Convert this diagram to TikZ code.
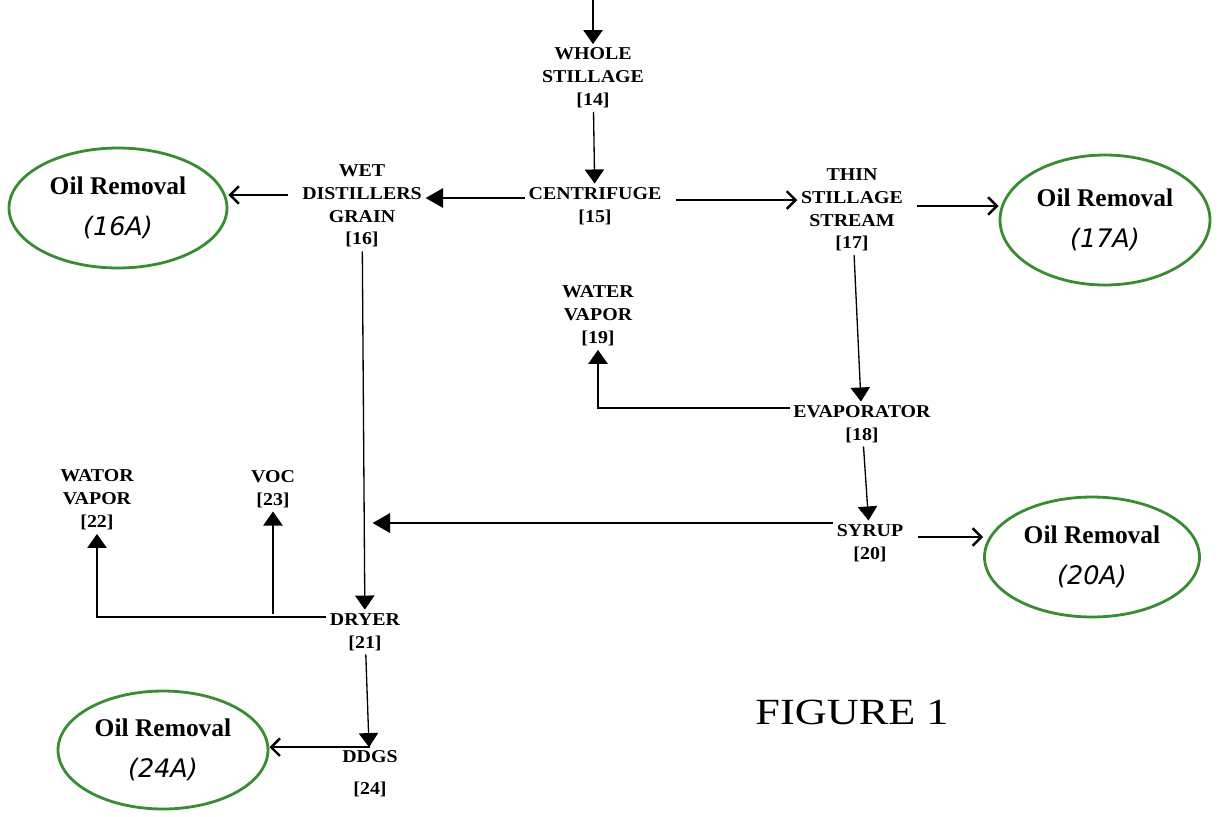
\documentclass[tikz,border=0pt]{standalone}
\usepackage{fontspec}
\setmainfont{Liberation Serif}
\newfontfamily\scanfont[FakeStretch=1.2]{Liberation Serif}
\newfontfamily\tagfont[FakeStretch=1.1]{Liberation Serif}
\newfontfamily\handfont{DejaVu Sans}
\usetikzlibrary{arrows.meta,shapes.geometric}
\definecolor{oilgreen}{RGB}{58,140,52}

\begin{document}
\begin{tikzpicture}[x=0.02cm,y=-0.02cm,
	lbl/.style	= {align=center,inner sep=2pt,font=\tagfont\bfseries\fontsize{10.3}{13}\selectfont},
	oil/.style	= {ellipse,draw=oilgreen,line width=1.6pt,align=center,
				minimum width=4.3cm,minimum height=2.4cm,
				font=\fontsize{14.5}{23}\selectfont\bfseries},
	flow/.style	= {line width=0.75pt,-{Triangle[width=11pt,length=8pt]}},
	feed/.style	= {line width=1.4pt,-{Triangle[width=11pt,length=10pt]}},
	side/.style	= {line width=1.4pt,shorten <=6pt,-{Straight Barb[width=10pt,length=5pt]}}]
					%\draw[help lines] (0,0) grid[step=100] (1221,816);
					\useasboundingbox (0,0) rectangle (1221,816);
					
					\node[lbl] (whole) at (593,78) {WHOLE\\STILLAGE\\{[14]}};
					\node[lbl] (centri) at (595,206) {CENTRIFUGE\\{[15]}};
					\node[lbl] (wdg) at (362,206) {WET\\DISTILLERS\\GRAIN\\{[16]}};
					\node[lbl] (thin) at (852,210) {THIN\\STILLAGE\\STREAM\\{[17]}};
					\node[lbl] (wv19) at (598,316) {WATER\\VAPOR\\{[19]}};
					\node[lbl] (evap) at (862,424) {EVAPORATOR\\{[18]}};
					\node[lbl] (syrup) at (870,543) {SYRUP\\{[20]}};
					\node[lbl] (wv22) at (97,500) {WATOR\\VAPOR\\{[22]}};
					\node[lbl] (voc) at (273,489) {VOC\\{[23]}};
					\node[lbl] (dryer) at (365,632) {DRYER\\{[21]}};
					\node[lbl] (ddgs) at (370,774) {DDGS\\[5pt]{[24]}};
					
					\node[oil,minimum width=4.36cm] (oil16) at (118,208) {Oil Removal\\{\handfont\itshape\mdseries (16A)}};
					\node[oil,minimum width=4.2cm,minimum height=2.6cm] (oil17) at (1105,220) {Oil Removal\\{\handfont\itshape\mdseries (17A)}};
					\node[oil] (oil20) at (1092,557) {Oil Removal\\{\handfont\itshape\mdseries (20A)}};
					\node[oil,minimum width=4.2cm,minimum height=2.36cm] (oil24) at (163,750) {Oil Removal\\{\handfont\itshape\mdseries (24A)}};
					
					\node[font=\scanfont\fontsize{21}{25}\selectfont] (fig) at (852,712) {FIGURE 1};
					
					\coordinate (in) at (593,0);
					\draw[flow] (in) -- (whole);
					\foreach \a/\b in {whole/centri,thin/evap,evap/syrup,wdg/dryer,dryer/ddgs}{\draw[flow] (\a) -- (\b);}
					
					\draw[feed] (centri.west |- 0,198) -- (wdg.east |- 0,198);
					\draw[feed,shorten >=6pt] (syrup.west |- 0,523) -- (wdg.south |- 0,523);
					\draw[side] (wdg.west |- 0,195) -- (oil16.east |- 0,195);
					\draw[side] (centri.east |- 0,200) -- (thin.west |- 0,200);
					\draw[side] (thin.east |- 0,206) -- (oil17.west |- 0,206);
					\draw[side] (syrup.east |- 0,537) -- (oil20.west |- 0,537);
					\draw[side,shorten <=0pt] (ddgs.north) -- (ddgs.north -| oil24.east);
					
					\draw[flow,line width=1pt] (evap.west |- 0,408) -| (wv19.south);
					\draw[flow,line width=1pt] (dryer.west |- 0,617) -| (wv22.south);
					\draw[flow] (voc.south |- 0,614) -- (voc.south);
				\end{tikzpicture}
\end{document}
